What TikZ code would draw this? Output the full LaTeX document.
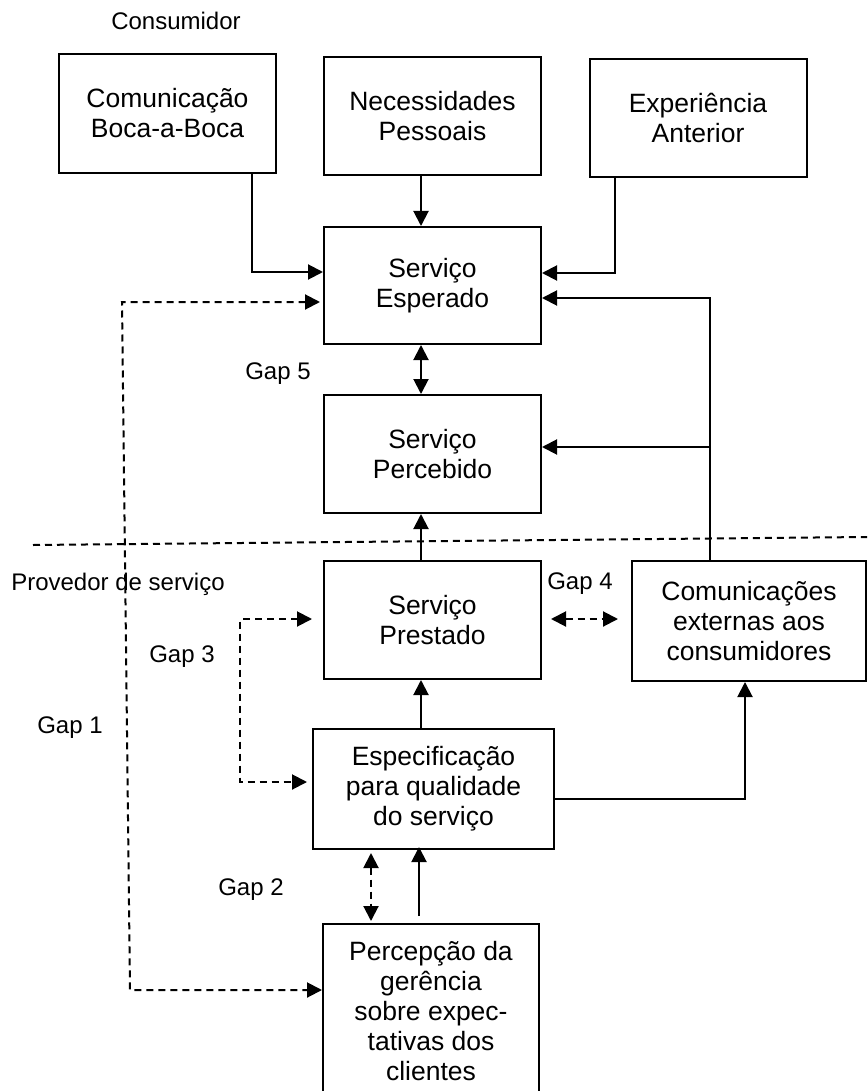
\documentclass[tikz,border=0pt]{standalone}
\usepackage{fontspec}
\setmainfont{Liberation Sans}
\usetikzlibrary{arrows.meta}
\newcommand\boxfont{\fontsize{26.5pt}{30pt}\selectfont}
\newcommand\lblfont{\fontsize{24pt}{28pt}\selectfont}
\tikzset{
  box/.style={draw, rectangle, line width=2pt, align=center, font=\boxfont, inner sep=0pt},
  conn/.style={line width=2pt, -{Triangle[length=15pt,width=15pt]}},
  dbl/.style={line width=2pt, {Triangle[length=15pt,width=15pt]}-{Triangle[length=15pt,width=15pt]}},
  dsh/.style={dash pattern=on 7pt off 5pt},
  lbl/.style={font=\lblfont, anchor=base, inner sep=0pt}
}
\begin{document}
\begin{tikzpicture}[x=1pt,y=-1pt]
\useasboundingbox (0,0) rectangle (867,1091);
\clip (0,0) rectangle (867,1091);

% boxes
\node[box, minimum width=217pt, minimum height=119pt] (boca) at (167.5,113.5) {Comunicação\\Boca-a-Boca};
\node[box, minimum width=217pt, minimum height=118pt] (nec) at (432.5,116) {Necessidades\\Pessoais};
\node[box, minimum width=217pt, minimum height=118pt] (exp) at (698,118) {Experiência\\Anterior};
\node[box, minimum width=217pt, minimum height=117pt] (esp) at (432.5,285.5) {Serviço\\Esperado};
\node[box, minimum width=217pt, minimum height=118pt] (perc) at (432.5,454) {Serviço\\Percebido};
\node[box, minimum width=217pt, minimum height=118pt] (prest) at (432.5,620) {Serviço\\Prestado};
\node[box, minimum width=234pt, minimum height=120pt] (com) at (749,621) {Comunicações\\externas aos\\consumidores};
\node[box, minimum width=241pt, minimum height=120pt] (espec) at (433.5,789) {Especificação\\para qualidade\\do serviço};
\node[box, minimum width=216pt, minimum height=175pt] (pg) at (431,1011.5) {Percepção da\\gerência\\sobre expec-\\tativas dos\\clientes};

% labels
\node[lbl] (tcons) at (176,30) {Consumidor};
\node[lbl] (tprov) at (118,590) {Provedor de serviço};
\node[lbl] (tg5) at (278,379) {Gap 5};
\node[lbl] (tg4) at (580,589) {Gap 4};
\node[lbl] (tg3) at (182,662) {Gap 3};
\node[lbl] (tg1) at (70,733) {Gap 1};
\node[lbl] (tg2) at (251,895) {Gap 2};

% routing points
\coordinate (axis) at (421,0);
\coordinate (k1) at (252,272);
\coordinate (k3) at (615,273);
\coordinate (k5) at (710,298);
\coordinate (k7) at (710,447);
\coordinate (k10) at (0,619);
\coordinate (k11) at (240,619);
\coordinate (k12) at (240,782);
\coordinate (k13) at (419,0);
\coordinate (k14) at (371,0);
\coordinate (k15) at (745,799);
\coordinate (g1a) at (122,302);
\coordinate (g1b) at (130,990);
\coordinate (divL) at (33,545);
\coordinate (divR) at (867,537);

% border between consumer and provider
\draw[line width=2pt, dsh] (divL) -- (divR);

% solid connectors
\draw[conn] (boca.south -| k1) |- (esp.west |- k1);
\draw[conn] (nec.south -| axis) -- (esp.north -| axis);
\draw[conn] (exp.south -| k3) |- (esp.east |- k3);
\draw[conn] (com.north -| k5) |- (esp.east |- k5);
\draw[conn] (k7) -- (perc.east |- k7);
\draw[dbl] (esp.south -| axis) -- (perc.north -| axis);
\draw[conn] (prest.north -| axis) -- (perc.south -| axis);
\draw[conn] (espec.north -| axis) -- (prest.south -| axis);
\draw[conn] (espec.east |- k15) -| (com.south -| k15);
\draw[conn, shorten <=7pt, shorten >=-3pt] (pg.north -| k13) -- (espec.south -| k13);

% gaps (dashed)
\draw[dbl, dsh, shorten <=3pt] (esp.west |- g1a) -- (g1a) -- (g1b) -- (pg.west |- g1b);
\draw[dbl, dsh, shorten <=3pt, shorten >=2pt] (espec.south -| k14) -- (pg.north -| k14);
\draw[dbl, dsh, shorten <=11pt, shorten >=5pt] (prest.west |- k11) -| (k12) -- (espec.west |- k12);
\draw[dbl, dsh, shorten <=9pt, shorten >=13pt] (prest.east |- k10) -- (com.west |- k10);
\end{tikzpicture}
\end{document}
